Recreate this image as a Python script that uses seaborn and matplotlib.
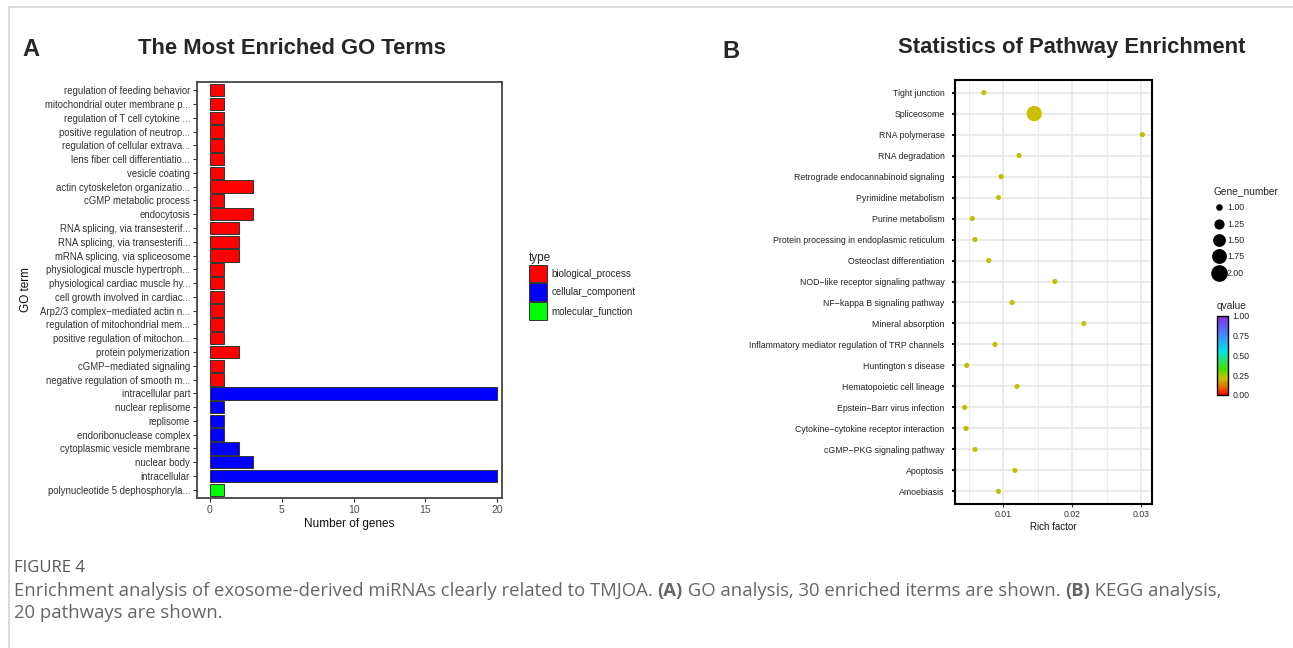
import numpy as np
import pandas as pd
import matplotlib
matplotlib.use("Agg")
import matplotlib.pyplot as plt
import seaborn as sns
from matplotlib.colors import LinearSegmentedColormap, Normalize
from matplotlib.patches import Patch
from matplotlib.lines import Line2D
import matplotlib.colorbar as mcolorbar

# ---- Panel A data: GO terms ----
go_terms = [
    "regulation of feeding behavior",
    "mitochondrial outer membrane p...",
    "regulation of T cell cytokine ...",
    "positive regulation of neutrop...",
    "regulation of cellular extrava...",
    "lens fiber cell differentiatio...",
    "vesicle coating",
    "actin cytoskeleton organizatio...",
    "cGMP metabolic process",
    "endocytosis",
    "RNA splicing, via transesterif...",
    "RNA splicing, via transesterifi...",
    "mRNA splicing, via spliceosome",
    "physiological muscle hypertroph...",
    "physiological cardiac muscle hy...",
    "cell growth involved in cardiac...",
    "Arp2/3 complex\u2212mediated actin n...",
    "regulation of mitochondrial mem...",
    "positive regulation of mitochon...",
    "protein polymerization",
    "cGMP\u2212mediated signaling",
    "negative regulation of smooth m...",
    "intracellular part",
    "nuclear replisome",
    "replisome",
    "endoribonuclease complex",
    "cytoplasmic vesicle membrane",
    "nuclear body",
    "intracellular",
    "polynucleotide 5 dephosphoryla...",
]
go_counts = [1, 1, 1, 1, 1, 1, 1, 3, 1, 3, 2, 2, 2, 1, 1, 1, 1, 1, 1, 2, 1, 1,
             20, 1, 1, 1, 2, 3, 20, 1]
go_types = (["biological_process"] * 22 + ["cellular_component"] * 7
            + ["molecular_function"])
type_names = ["biological_process", "cellular_component", "molecular_function"]
type_colors = ["#ff0000", "#0000ff", "#00ff00"]

# ---- Panel B data: KEGG pathways ----
pathways = [
    "Tight junction", "Spliceosome", "RNA polymerase", "RNA degradation",
    "Retrograde endocannabinoid signaling", "Pyrimidine metabolism",
    "Purine metabolism", "Protein processing in endoplasmic reticulum",
    "Osteoclast differentiation", "NOD\u2212like receptor signaling pathway",
    "NF\u2212kappa B signaling pathway", "Mineral absorption",
    "Inflammatory mediator regulation of TRP channels", "Huntington s disease",
    "Hematopoietic cell lineage", "Epstein\u2212Barr virus infection",
    "Cytokine\u2212cytokine receptor interaction", "cGMP\u2212PKG signaling pathway",
    "Apoptosis", "Amoebiasis",
]
rich_factor = [0.0072, 0.0145, 0.0302, 0.0123, 0.0097, 0.0093, 0.0055, 0.0059,
               0.0079, 0.0175, 0.0113, 0.0217, 0.0088, 0.0047, 0.0120, 0.0044,
               0.0046, 0.0059, 0.0117, 0.0093]
gene_number = [1, 2, 1, 1, 1, 1, 1, 1, 1, 1, 1, 1, 1, 1, 1, 1, 1, 1, 1, 1]
qvalue = [0.22, 0.21, 0.22, 0.22, 0.22, 0.22, 0.22, 0.22, 0.22, 0.22,
          0.22, 0.22, 0.22, 0.22, 0.22, 0.22, 0.22, 0.22, 0.22, 0.22]
size_levels = [1.00, 1.25, 1.50, 1.75, 2.00]
q_ticks = [0.00, 0.25, 0.50, 0.75, 1.00]

go_df = pd.DataFrame({"term": go_terms, "count": go_counts, "type": go_types})
kegg_df = pd.DataFrame({"pathway": pathways, "rich": rich_factor,
                        "genes": gene_number, "qvalue": qvalue})

sns.set_theme(style="white")
plt.rcParams["font.family"] = ["Liberation Sans", "DejaVu Sans"]

W, H = 1293, 648
fig = plt.figure(figsize=(W / 100, H / 100), dpi=100)
fig.patch.set_facecolor("white")

def fx(px):
    return px / W

def fy(py):
    return 1 - py / H

# outer frame lines
fig.add_artist(Line2D([fx(9), 1], [fy(7), fy(7)], color="#d4d4d4", lw=1.2))
fig.add_artist(Line2D([fx(9), fx(9)], [fy(7), 0], color="#d4d4d4", lw=1.2))

# ---------------- Panel A ----------------
ax1 = fig.add_axes([fx(197), fy(498), fx(502) - fx(197), fy(82) - fy(498)])
sns.barplot(data=go_df, x="count", y="term", hue="type", hue_order=type_names,
            palette=dict(zip(type_names, type_colors)), dodge=False, width=0.9,
            saturation=1, edgecolor="#333333", linewidth=0.7, legend=False,
            ax=ax1)
ax1.set_xlim(-0.9, 20.33)
ax1.set_ylim(len(go_terms) - 0.4, -0.6)
ax1.set_xticks([0, 5, 10, 15, 20])
ax1.tick_params(axis="y", labelsize=6.9, labelcolor="#333333", length=3,
                width=0.8, color="#333333", left=True, pad=2)
ax1.tick_params(axis="x", labelsize=7.5, labelcolor="#4d4d4d", length=3,
                width=0.8, color="#333333", bottom=True, pad=2)
ax1.set_xlabel("Number of genes", fontsize=8.5, labelpad=2, color="#111111")
ax1.set_ylabel("GO term", fontsize=8.5, labelpad=6, color="#111111")
for sp in ax1.spines.values():
    sp.set_color("#444444")
    sp.set_linewidth(1.3)

fig.text(fx(22), fy(50), "A", fontsize=17, fontweight="bold", va="center", ha="left")
fig.text(fx(292), fy(48), "The Most Enriched GO Terms", fontsize=15.8,
         fontweight="bold", va="center", ha="center")

type_handles = [Patch(facecolor=c, edgecolor="#333333", lw=0.7) for c in type_colors]
leg1 = fig.legend(type_handles, type_names, loc="upper left",
                  bbox_to_anchor=(fx(527), fy(250)), frameon=False, fontsize=7,
                  title="type", title_fontsize=8.5, alignment="left",
                  handlelength=1.9, handleheight=2.4, labelspacing=0.1,
                  handletextpad=0.4, borderaxespad=0, borderpad=0.2)

# ---------------- Panel B ----------------
qcmap = LinearSegmentedColormap.from_list("q", [
    (0.00, "#ff0000"), (0.10, "#e86a00"), (0.21, "#c8c000"), (0.33, "#44e000"),
    (0.55, "#00e6e6"), (0.78, "#4a80ff"), (1.00, "#8a2be2")])

ax2 = fig.add_axes([fx(955), fy(504), fx(1152) - fx(955), fy(80) - fy(504)])
ax2.set_axisbelow(True)
sns.scatterplot(data=kegg_df, x="rich", y="pathway", size="genes",
                sizes=(14, 120), size_norm=(1, 2), hue="qvalue", palette=qcmap,
                hue_norm=(0, 1), legend=False, linewidth=0, ax=ax2, zorder=3)
ax2.set_xlim(0.0030, 0.0316)
ax2.set_ylim(len(pathways) - 0.4, -0.6)
ax2.set_xticks([0.01, 0.02, 0.03])
ax2.set_xticklabels(["0.01", "0.02", "0.03"])
ax2.set_xticks([0.005, 0.015, 0.025], minor=True)
ax2.grid(True, which="major", color="#e6e6e6", lw=1.2)
ax2.grid(True, which="minor", axis="x", color="#ececec", lw=0.8)
ax2.tick_params(axis="y", labelsize=6.3, labelcolor="#222222", length=2.5,
                width=1.3, color="black", left=True, pad=5)
ax2.tick_params(axis="x", which="major", labelsize=6.3, labelcolor="#333333",
                length=2.5, width=0.8, color="#333333", bottom=True, pad=2)
ax2.tick_params(axis="x", which="minor", length=0)
ax2.set_xlabel("Rich factor", fontsize=7, labelpad=2, color="#111111")
ax2.set_ylabel("")
for sp in ax2.spines.values():
    sp.set_color("black")
    sp.set_linewidth(1.5)

fig.text(fx(722), fy(52), "B", fontsize=17, fontweight="bold", va="center", ha="left")
fig.text(fx(1072), fy(48), "Statistics of Pathway Enrichment", fontsize=15.8,
         fontweight="bold", va="center", ha="center")

# Gene_number legend
def area_for(v):
    return 14 + (v - 1) * (120 - 14)

size_handles = [Line2D([], [], marker="o", linestyle="", color="black",
                       markersize=np.sqrt(area_for(v))) for v in size_levels]
leg2 = fig.legend(size_handles, [f"{v:.2f}" for v in size_levels],
                  loc="upper left", bbox_to_anchor=(fx(1212), fy(184)),
                  frameon=False, fontsize=6.3, title="Gene_number",
                  title_fontsize=7.3, alignment="left", handlelength=1.2,
                  labelspacing=0.85, handletextpad=0.3, borderaxespad=0,
                  borderpad=0.2)

# qvalue colourbar
cax = fig.add_axes([fx(1217), fy(395), fx(11), fy(316) - fy(395)])
cb = mcolorbar.ColorbarBase(cax, cmap=qcmap, norm=Normalize(0, 1),
                            ticks=q_ticks, orientation="vertical")
cb.ax.set_yticklabels([f"{t:.2f}" for t in q_ticks])
cb.ax.tick_params(labelsize=6.3, length=2.5, color="white", width=1,
                  direction="in", left=True, right=True, pad=3)
cb.outline.set_edgecolor("black")
cb.outline.set_linewidth(1)
cax.set_title("qvalue", fontsize=7.3, loc="left", pad=5)

# ---------------- Caption ----------------
cap_font = ["Open Sans", "DejaVu Sans"]
fig.text(fx(14), fy(568), "FIGURE 4", fontsize=12, color="#555555",
         family=cap_font, va="center", ha="left")

renderer = fig.canvas.get_renderer()

def write_run(x_px, y_px, pieces):
    x = x_px
    for txt, bold in pieces:
        t = fig.text(fx(x), fy(y_px), txt, fontsize=13.3, color="#666666",
                     family=cap_font, fontweight="bold" if bold else "normal",
                     va="center", ha="left")
        x = t.get_window_extent(renderer).x1
    return x

write_run(14, 591, [
    ("Enrichment analysis of exosome-derived miRNAs clearly related to TMJOA. ", False),
    ("(A)", True),
    (" GO analysis, 30 enriched iterms are shown. ", False),
    ("(B)", True),
    (" KEGG analysis,", False),
])
write_run(14, 613, [("20 pathways are shown.", False)])

fig.savefig("out.png", dpi=100, facecolor="white")
